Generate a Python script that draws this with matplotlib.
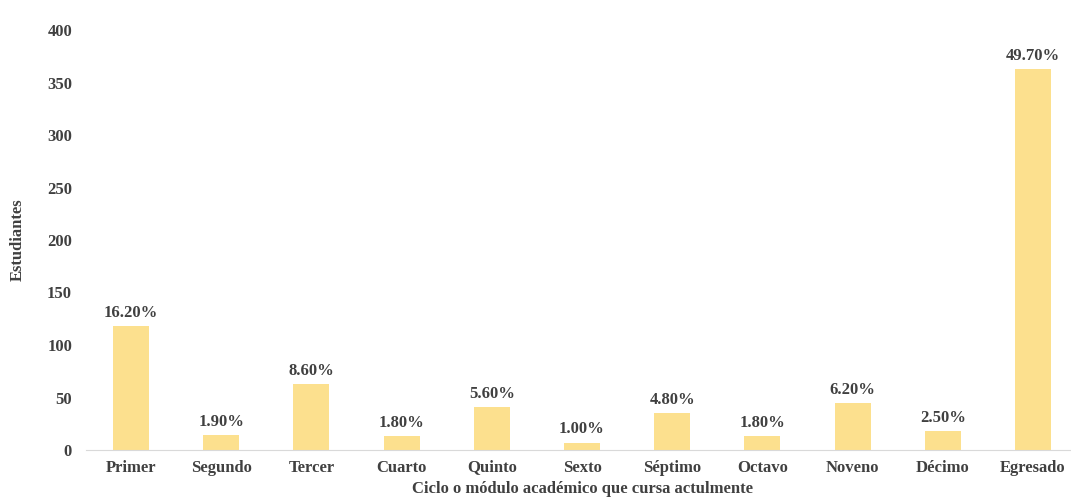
import matplotlib
matplotlib.use("Agg")
import matplotlib.pyplot as plt

categories = ["Primer", "Segundo", "Tercer", "Cuarto", "Quinto", "Sexto",
              "Séptimo", "Octavo", "Noveno", "Décimo", "Egresado"]
counts = [118, 14, 63, 13, 41, 7, 35, 13, 45, 18, 363]
percent_labels = ["16.20%", "1.90%", "8.60%", "1.80%", "5.60%", "1.00%",
                  "4.80%", "1.80%", "6.20%", "2.50%", "49.70%"]
y_ticks = [0, 50, 100, 150, 200, 250, 300, 350, 400]

plt.rcParams['font.family'] = ['Liberation Serif', 'DejaVu Serif']
text_color = "#404040"
fs = 12

fig = plt.figure(figsize=(10.71, 4.97), dpi=100)
ax = fig.add_axes([86/1071, 47/497, (1078-86)/1071, 420/497])

x = list(range(len(categories)))
ax.bar(x, counts, width=0.4, color="#FCE08E")
for xi, c, lab in zip(x, counts, percent_labels):
    ax.text(xi, c + 5, lab, ha="center", va="bottom", fontsize=fs,
            fontweight="bold", color=text_color)

ax.set_xlim(-0.5, 10.5)
ax.set_ylim(0, 400)
ax.set_yticks(y_ticks)
ax.set_xticks(x)
ax.set_xticklabels(categories)
for s in ["top", "right", "left"]:
    ax.spines[s].set_visible(False)
ax.spines["bottom"].set_color("#d9d9d9")
ax.tick_params(axis="both", length=0, labelsize=fs, labelcolor=text_color)
ax.tick_params(axis="y", pad=10)
ax.tick_params(axis="x", pad=15.5)
for lbl in ax.get_xticklabels():
    lbl.set_fontweight("bold")
    lbl.set_va("baseline")
for lbl in ax.get_yticklabels():
    lbl.set_fontweight("bold")

fig.text(0.5 * (86 + 1078) / 1071 - 0.0, 4/497, "Ciclo o módulo académico que cursa actulmente",
         ha="center", va="baseline", fontsize=fs, fontweight="bold", color=text_color)
fig.text(18/1071, 1 - 240/497, "Estudiantes", rotation=90, ha="center", va="center",
         fontsize=fs, fontweight="bold", color=text_color)

fig.savefig("out.png", dpi=100, facecolor="white")
